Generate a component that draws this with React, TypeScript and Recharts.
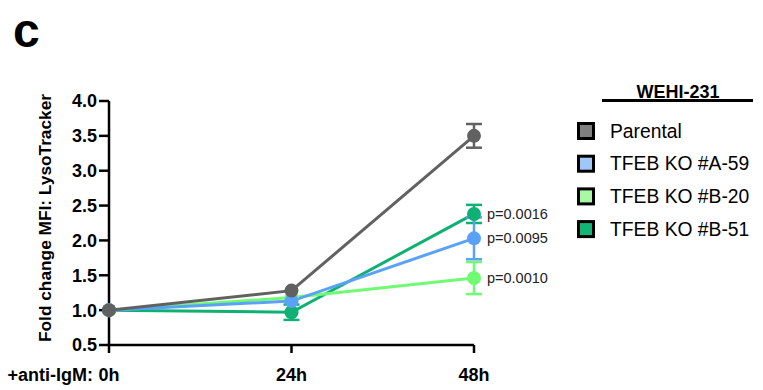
import React from 'react';
import { LineChart, Line, XAxis, YAxis, ErrorBar, LabelList } from 'recharts';

const hours = [0, 24, 48];
const hourLabels = ['0h', '24h', '48h'];
const yTicks = [0.5, 1.0, 1.5, 2.0, 2.5, 3.0, 3.5, 4.0];

const parental = [1.0, 1.28, 3.5];
const parentalErr = [null, null, 0.17];
const a59 = [1.0, 1.13, 2.03];
const a59Err = [null, null, 0.3];
const b20 = [1.0, 1.18, 1.46];
const b20Err = [null, null, 0.23];
const b51 = [1.0, 0.97, 2.38];
const b51Err = [null, 0.11, 0.13];

const pA59 = [null, null, 'p=0.0095'];
const pB20 = [null, null, 'p=0.0010'];
const pB51 = [null, null, 'p=0.0016'];

const seriesNames = ['Parental', 'TFEB KO #A-59', 'TFEB KO #B-20', 'TFEB KO #B-51'];
const lineColors = ['#616161', '#5aa2f7', '#6ffb72', '#0fb074'];
const legendFills = ['#808080', '#9fc7f7', '#a8f8a4', '#12b574'];

const data = hours.map((h, i) => ({
  h,
  parental: parental[i],
  parentalErr: parentalErr[i],
  a59: a59[i],
  a59Err: a59Err[i],
  b20: b20[i],
  b20Err: b20Err[i],
  b51: b51[i],
  b51Err: b51Err[i],
  pA59: pA59[i],
  pB20: pB20[i],
  pB51: pB51[i],
}));

const FONT = '"Liberation Sans", Arial, Helvetica, sans-serif';

export default function App() {
  const axisStyle = { stroke: '#000', strokeWidth: 2.5 };
  const series = [
    { key: 'b51', err: 'b51Err', p: 'pB51', color: lineColors[3] },
    { key: 'b20', err: 'b20Err', p: 'pB20', color: lineColors[2] },
    { key: 'a59', err: 'a59Err', p: 'pA59', color: lineColors[1] },
    { key: 'parental', err: 'parentalErr', p: null, color: lineColors[0] },
  ];
  return (
    <div style={{ position: 'absolute', left: 0, top: 0, width: 763, height: 390, background: '#fff', fontFamily: FONT }}>
      <LineChart width={763} height={390} data={data} margin={{ top: 101, right: 289, bottom: 0, left: 0 }}>
        <XAxis
          dataKey="h"
          type="number"
          domain={[0, 48]}
          ticks={hours}
          tickFormatter={(v: number) => hourLabels[hours.indexOf(v)]}
          height={45}
          axisLine={axisStyle}
          tickLine={axisStyle}
          tickSize={8}
          tickMargin={15}
          tick={{ fill: '#000', fontSize: 18, fontWeight: 'bold', fontFamily: FONT }}
          interval={0}
        />
        <YAxis
          type="number"
          domain={[0.5, 4.0]}
          ticks={yTicks}
          tickFormatter={(v: number) => v.toFixed(1)}
          width={109}
          axisLine={axisStyle}
          tickLine={axisStyle}
          tickSize={10}
          tickMargin={2}
          tick={{ fill: '#000', fontSize: 18, fontWeight: 'bold', fontFamily: FONT }}
          interval={0}
        />
        {series.map((s) => (
          <Line
            key={s.key}
            dataKey={s.key}
            stroke={s.color}
            strokeWidth={3}
            dot={{ r: 7, fill: s.color, stroke: 'none' }}
            activeDot={false}
            isAnimationActive={false}
          >
            <ErrorBar dataKey={s.err} width={8} strokeWidth={2.5} stroke={s.color} direction="y" />
            {s.p && (
              <LabelList dataKey={s.p} position="right" offset={13} style={{ fontSize: 14.5, fill: '#222', fontFamily: FONT }} />
            )}
          </Line>
        ))}
      </LineChart>
      <svg width={763} height={390} style={{ position: 'absolute', left: 0, top: 0, pointerEvents: 'none' }}>
        <text x={13} y={47} fontSize={48} fontWeight="bold" fontFamily={FONT} fill="#000">c</text>
        <text
          transform="translate(45,218) rotate(-90)"
          textAnchor="middle"
          dominantBaseline="central"
          fontSize={17.3}
          fontWeight="bold"
          fontFamily={FONT}
          fill="#000"
        >
          Fold change MFI: LysoTracker
        </text>
        <text x={93} y={375} textAnchor="end" dominantBaseline="central" fontSize={18} fontWeight="bold" fontFamily={FONT} fill="#000">
          +anti-IgM:
        </text>
        <text x={678} y={92} textAnchor="middle" dominantBaseline="central" fontSize={18} fontWeight="bold" fontFamily={FONT} fill="#000">
          WEHI-231
        </text>
        <line x1={602} x2={753} y1={100.5} y2={100.5} stroke="#000" strokeWidth={3} />
        {seriesNames.map((name, i) => {
          const cy = 131 + i * 32.7;
          return (
            <g key={name}>
              <rect x={578.5} y={cy - 7.5} width={15} height={15} fill={legendFills[i]} stroke="#000" strokeWidth={3} />
              <text x={610} y={cy} dominantBaseline="central" fontSize={19.3} fontFamily={FONT} fill="#000">
                {name}
              </text>
            </g>
          );
        })}
      </svg>
    </div>
  );
}
